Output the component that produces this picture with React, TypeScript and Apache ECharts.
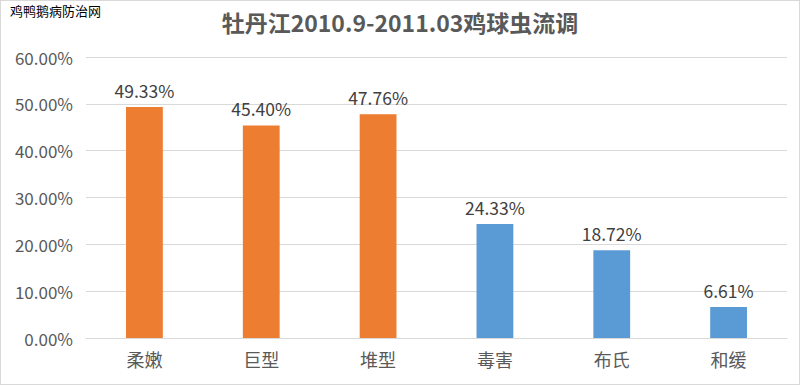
import React, { useEffect, useRef } from "react";
import * as echarts from "echarts";

const categories = ["柔嫩", "巨型", "堆型", "毒害", "布氏", "和缓"];
const values = [49.33, 45.4, 47.76, 24.33, 18.72, 6.61];
const barColors = ["#ED7D31", "#ED7D31", "#ED7D31", "#5B9BD5", "#5B9BD5", "#5B9BD5"];
const titleText = "牡丹江2010.9-2011.03鸡球虫流调";
const watermark = "鸡鸭鹅病防治网";

const FONT = "'Noto Sans CJK SC', 'Noto Sans', sans-serif";

export default function App() {
  const ref = useRef<HTMLDivElement>(null);
  useEffect(() => {
    document.body.style.margin = "0";
    const chart = echarts.init(ref.current!, undefined, { renderer: "svg" });
    chart.setOption({
      animation: false,
      backgroundColor: "#ffffff",
      title: {
        text: titleText,
        left: "center",
        top: 4,
        textStyle: { fontFamily: FONT, fontSize: 23, fontWeight: "bold", color: "#595959" },
      },
      graphic: [
        {
          type: "text",
          left: 9,
          top: 3,
          style: { text: watermark, fontFamily: FONT, fontSize: 13, fill: "#000000" },
        },
      ],
      grid: { left: 85, right: 12, top: 56, bottom: 46, containLabel: false },
      xAxis: {
        type: "category",
        data: categories,
        axisLine: { lineStyle: { color: "#d9d9d9" } },
        axisTick: { show: false },
        axisLabel: { fontFamily: FONT, fontSize: 18, color: "#595959", margin: 12 },
      },
      yAxis: {
        type: "value",
        min: 0,
        max: 60,
        interval: 10,
        axisLine: { show: false },
        axisTick: { show: false },
        splitLine: { lineStyle: { color: "#d9d9d9" } },
        axisLabel: {
          fontFamily: FONT,
          fontSize: 17,
          color: "#595959",
          margin: 13,
          formatter: (v: number) => v.toFixed(2) + "%",
        },
      },
      series: [
        {
          type: "bar",
          data: values.map((v, i) => ({ value: v, itemStyle: { color: barColors[i] } })),
          barWidth: "31.5%",
          label: {
            show: true,
            position: "top",
            distance: 8,
            fontFamily: FONT,
            fontSize: 17.5,
            color: "#404040",
            formatter: (p: any) => p.value.toFixed(2) + "%",
          },
        },
      ],
    });
    return () => chart.dispose();
  }, []);
  return (
    <div
      style={{
        width: 800,
        height: 385,
        boxSizing: "border-box",
        border: "1px solid #d9d9d9",
        position: "relative",
      }}
    >
      <div ref={ref} style={{ width: 798, height: 383 }} />
    </div>
  );
}
